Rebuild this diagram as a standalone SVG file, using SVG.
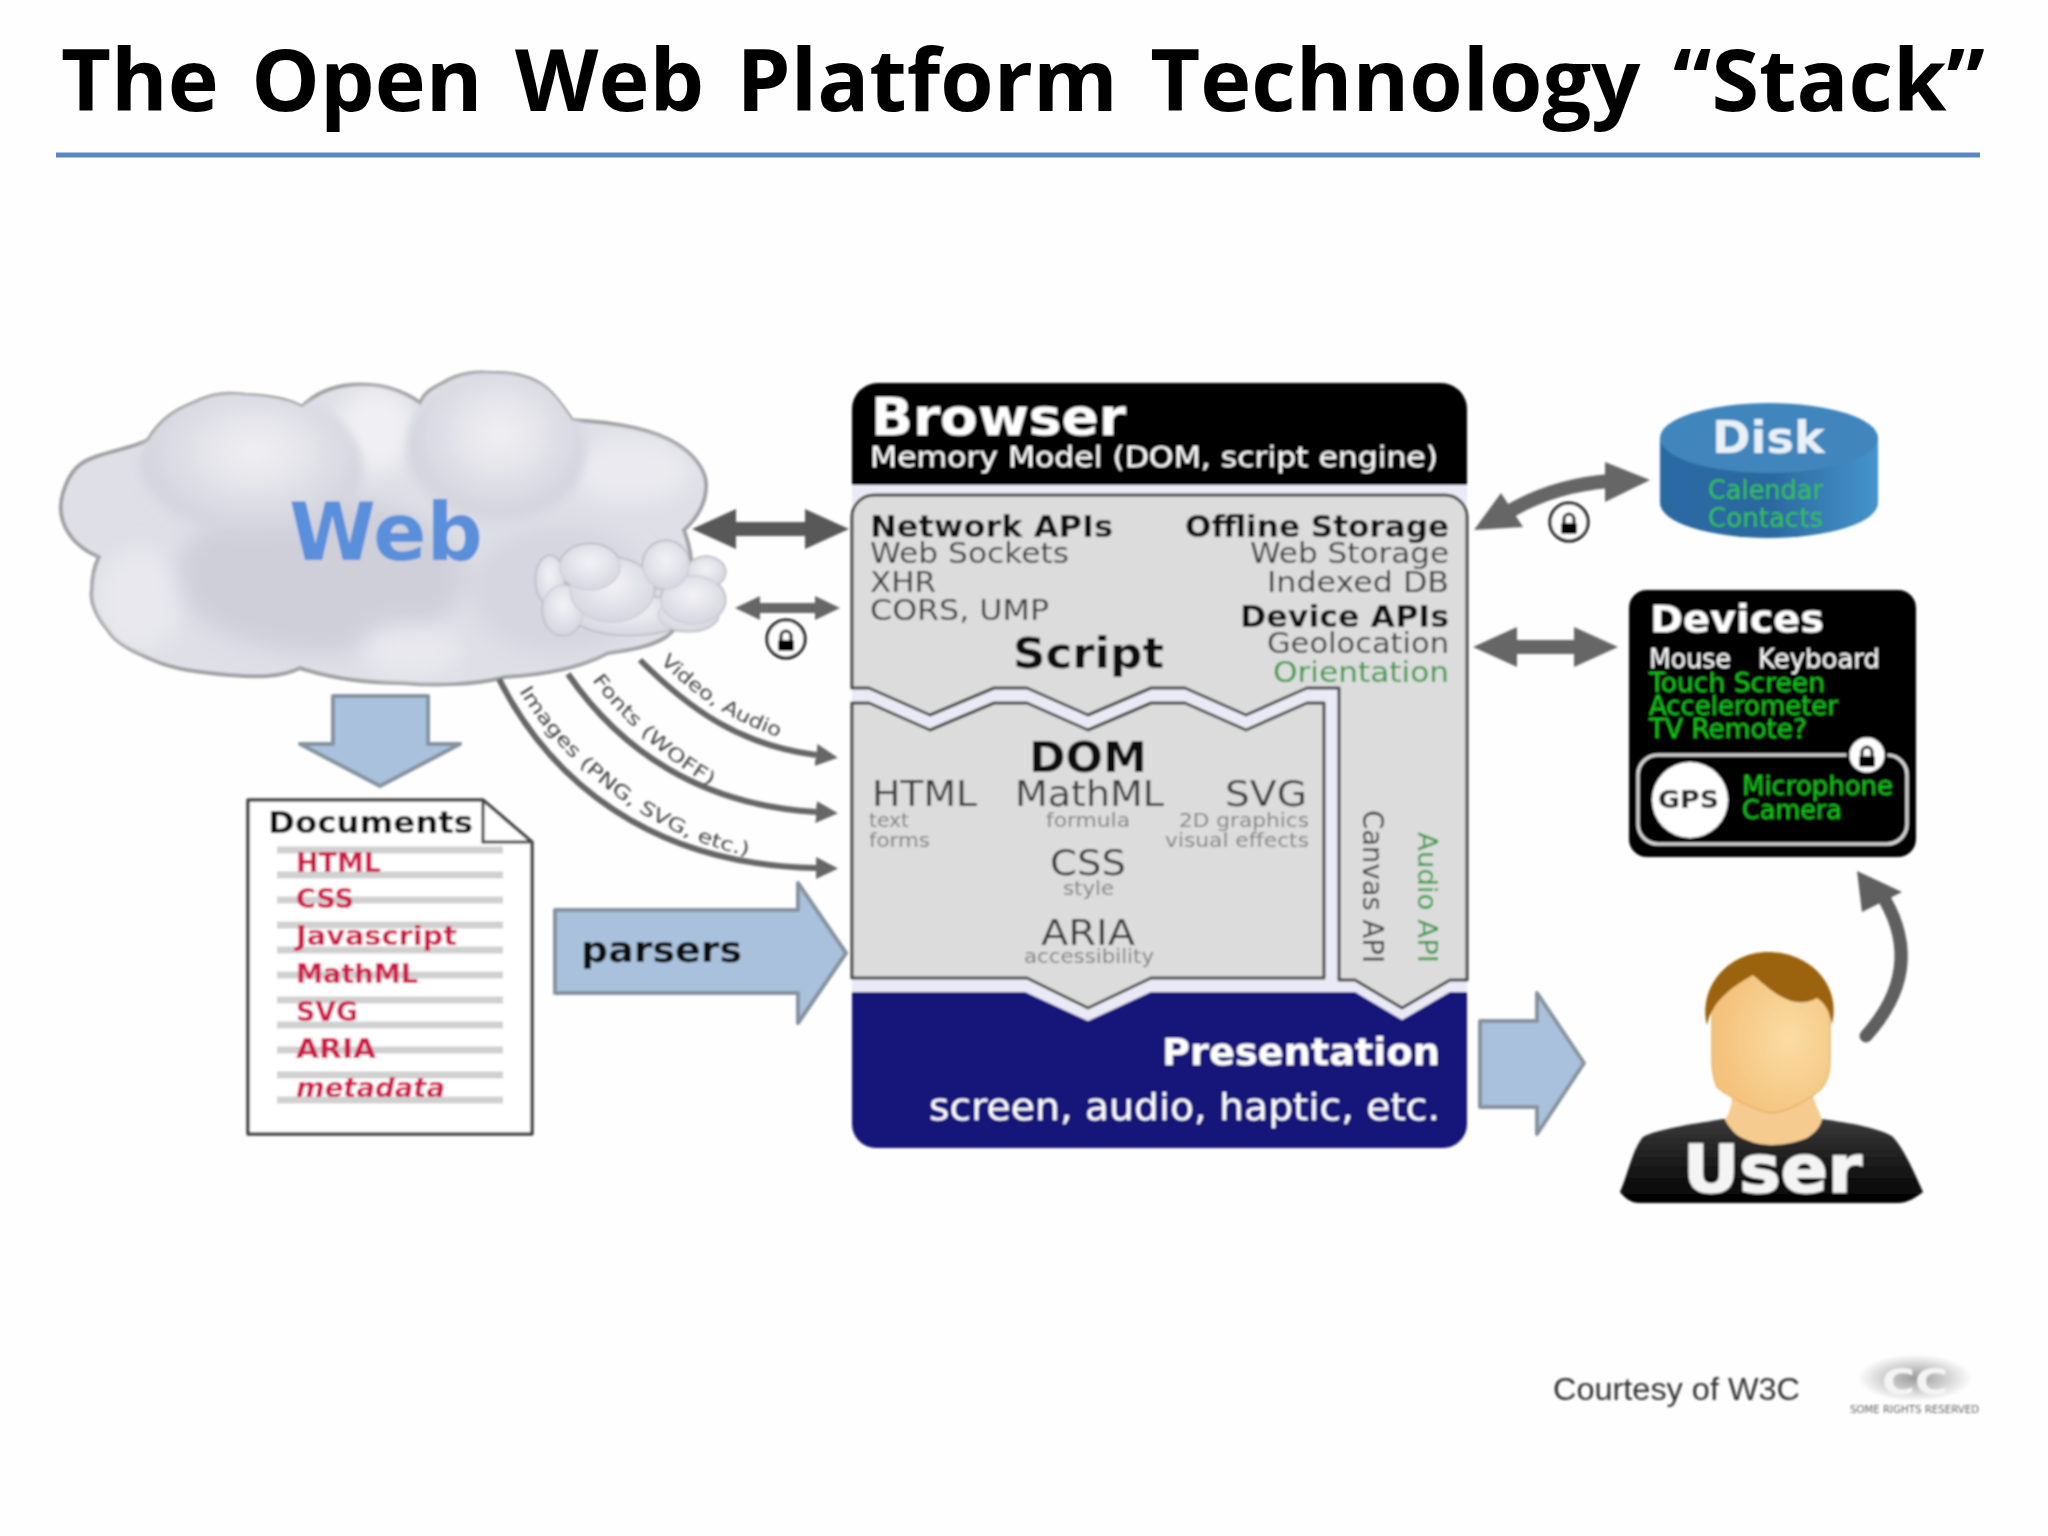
<svg xmlns="http://www.w3.org/2000/svg" width="2048" height="1536" viewBox="0 0 2048 1536">
<style>
text{font-family:"DejaVu Sans","Liberation Sans",sans-serif}
.b{font-weight:700}
.wh{fill:#fff}
.k{fill:#111}
.dk{fill:#3a3a3a}
.sub{fill:#808080}
.gr{fill:#2f9a3c}
.lg{fill:#17c61e}
.red{fill:#d0174a;font-weight:700}
.panel{fill:#dcdcdc;stroke:#444;stroke-width:3;stroke-linejoin:round}
.blue{fill:#a9c1dc;stroke:#85939f;stroke-width:4;stroke-linejoin:round}
.dbl{fill:#666}
.cv{fill:none;stroke:#666;stroke-width:6}
.stripe{stroke:#d0d0d0;stroke-width:7}
.lab{fill:#444;font-size:19px}
</style>
<defs>
<radialGradient id="puff" cx=".52" cy=".4" r=".55"><stop offset="0" stop-color="#f0f0f3"/><stop offset=".6" stop-color="#dedee6"/><stop offset=".92" stop-color="#d4d4de"/><stop offset="1" stop-color="#d4d4de" stop-opacity=".3"/></radialGradient>
<radialGradient id="small" cx=".5" cy=".4" r=".6"><stop offset="0" stop-color="#f2f2f6"/><stop offset="1" stop-color="#d6d6e0"/></radialGradient>
<radialGradient id="skin" cx=".65" cy=".5" r=".6"><stop offset="0" stop-color="#fbdca4"/><stop offset="1" stop-color="#f4c27c"/></radialGradient>
<linearGradient id="side"><stop offset="0" stop-color="#2a6aa4"/><stop offset=".5" stop-color="#2b689f"/><stop offset="1" stop-color="#4594cc"/></linearGradient>
<linearGradient id="shirt" x2="0" y2="1"><stop offset="0" stop-color="#3a3a3a"/><stop offset="1" stop-color="#000"/></linearGradient>
<radialGradient id="ccg"><stop offset="0" stop-color="#9a9a9a"/><stop offset="1" stop-color="#fff"/></radialGradient>
<filter id="soft" x="-20%" y="-20%" width="140%" height="140%"><feGaussianBlur stdDeviation="11"/></filter>
<filter id="soft2" x="-5%" y="-5%" width="110%" height="110%"><feGaussianBlur stdDeviation="5"/></filter>
<filter id="jpeg" x="0" y="0" width="100%" height="100%" filterUnits="userSpaceOnUse" primitiveUnits="userSpaceOnUse"><feGaussianBlur stdDeviation=".8"/></filter>
<clipPath id="cloudClip"><path d="M99 557C70 545 55 520 63 493C70 470 80 462 95 457C115 450 135 447 148 440C160 420 175 410 193 403C215 392 230 393 246 395C270 396 290 400 302 407C320 388 345 383 371 385C390 386 410 395 420 403C425 392 432 388 443 383C460 372 478 372 492 373C515 372 533 378 545 387C558 398 565 410 572 420C610 422 650 428 675 443C695 455 705 470 706 483C707 505 695 520 684 530C695 560 700 610 666 637C650 647 630 650 608 653C580 668 540 675 505 677C475 685 435 686 403 683C365 683 330 678 300 668C280 678 255 677 229 675C200 672 175 670 153 660C130 650 115 642 108 630C95 615 90 600 92 590C92 575 95 565 99 557Z"/></clipPath>
<marker id="head" markerUnits="userSpaceOnUse" markerWidth="22" markerHeight="26" refX="0" refY="13" orient="auto"><path d="M0 2L22 13L0 24Z" fill="#666"/></marker>
<g id="lock"><path d="M-5 0V-5a5 5 0 0 1 10 0V0" fill="none" stroke="#000" stroke-width="3"/><rect x="-8" y="-1" width="16" height="11" rx="2" fill="#000"/></g>
<path id="pVideo" d="M660 662C690 692 730 722 785 739"/>
<path id="pFonts" d="M592 680C622 721 667 761 714 788"/>
<path id="pImages" d="M519 691C558 756 643 836 750 856"/>
<g id="puffs">
<ellipse cx="630" cy="615" rx="56" ry="20"/>
<ellipse cx="688" cy="615" rx="30" ry="16"/>
<ellipse cx="550" cy="580" rx="14" ry="24"/>
<ellipse cx="563" cy="610" rx="20" ry="25"/>
<ellipse cx="706" cy="572" rx="19" ry="15"/>
<ellipse cx="612" cy="590" rx="42" ry="32"/>
<ellipse cx="693" cy="600" rx="32" ry="24"/>
<ellipse cx="590" cy="567" rx="30" ry="23"/>
<ellipse cx="666" cy="565" rx="23" ry="24"/>
</g>
</defs>
<rect width="2048" height="1536" fill="#fefefe"/>
<g id="title">
<text x="61" y="111" font-size="86" font-weight="700" style="font-family:'Open Sans','Noto Sans',sans-serif" textLength="1924" lengthAdjust="spacingAndGlyphs" word-spacing="10" fill="#000">The Open Web Platform Technology “Stack”</text>
<line x1="56" y1="155" x2="1980" y2="155" stroke="#5b86c4" stroke-width="5"/>
</g>
<g id="diagram" filter="url(#jpeg)">
<g id="web">
<path d="M99 557C70 545 55 520 63 493C70 470 80 462 95 457C115 450 135 447 148 440C160 420 175 410 193 403C215 392 230 393 246 395C270 396 290 400 302 407C320 388 345 383 371 385C390 386 410 395 420 403C425 392 432 388 443 383C460 372 478 372 492 373C515 372 533 378 545 387C558 398 565 410 572 420C610 422 650 428 675 443C695 455 705 470 706 483C707 505 695 520 684 530C695 560 700 610 666 637C650 647 630 650 608 653C580 668 540 675 505 677C475 685 435 686 403 683C365 683 330 678 300 668C280 678 255 677 229 675C200 672 175 670 153 660C130 650 115 642 108 630C95 615 90 600 92 590C92 575 95 565 99 557Z" fill="#dfdfe7" stroke="#a2a2a6" stroke-width="4"/>
<g clip-path="url(#cloudClip)">
<g filter="url(#soft)">
<ellipse cx="320" cy="575" rx="145" ry="78" fill="#cfcfda"/>
<ellipse cx="560" cy="590" rx="90" ry="65" fill="#d6d6e0"/>
<ellipse cx="139" cy="600" rx="42" ry="50" fill="#e8e8ee"/>
<ellipse cx="410" cy="650" rx="50" ry="26" fill="#e8e8ee"/>
<ellipse cx="630" cy="470" rx="60" ry="32" fill="#eaeaf0"/>
<ellipse cx="376" cy="430" rx="38" ry="42" fill="#f0f0f4"/>
</g>
<g filter="url(#soft2)">
<ellipse cx="251" cy="467" rx="112" ry="76" fill="url(#puff)"/>
<ellipse cx="496" cy="450" rx="90" ry="80" fill="url(#puff)"/>
</g>
</g>
<use href="#puffs" fill="#d6d6e0" stroke="#aeaeb6" stroke-width="3"/>
<use href="#puffs" fill="url(#small)" stroke="#cfcfd8" stroke-width="1.5"/>
<text x="289" y="560" font-size="80" class="b" fill="#5a8fdc" textLength="194" lengthAdjust="spacingAndGlyphs">Web</text>
</g>
<g id="connectors">
<polygon style="fill:#585858" points="692,529 736,509 736,522 805,522 805,509 849,529 805,549 805,536 736,536 736,549"/>
<polygon class="dbl" points="735,608 760,596 760,603 815,603 815,596 840,608 815,620 815,613 760,613 760,620"/>
<path class="cv" marker-end="url(#head)" d="M640 660C690 710 740 745 816 755"/>
<path class="cv" marker-end="url(#head)" d="M568 674C620 750 700 805 816 812"/>
<path class="cv" marker-end="url(#head)" d="M499 679C550 780 650 865 816 868"/>
<polygon class="blue" points="333,696 428,696 428,744 460,744 380,786 300,744 333,744"/>
<polygon class="blue" points="555,910 798,910 798,883 846,953 798,1023 798,993 555,993"/>
<polygon class="blue" points="1480,1021 1537,1021 1537,993 1584,1063 1537,1134 1537,1107 1480,1107"/>
<polygon class="dbl" points="1473,647 1517,627 1517,640 1574,640 1574,627 1618,647 1574,667 1574,654 1517,654 1517,667"/>
<path fill="none" stroke="#666" stroke-width="14" d="M1510 511Q1555 485 1610 481"/>
<polygon class="dbl" points="1474,530 1501,493 1523,527"/>
<polygon class="dbl" points="1650,480 1605,462 1605,502"/>
<path fill="none" stroke="#5e5e5e" stroke-width="13" stroke-linecap="round" d="M1866 1036Q1925 970 1885 900"/>
<polygon fill="#5e5e5e" points="1857,871 1902,892 1862,912"/>
<g id="lock1"><circle cx="786" cy="639" r="19" fill="#fff" stroke="#111" stroke-width="3"/><use href="#lock" x="786" y="641"/></g>
<g id="lock2"><circle cx="1569" cy="522" r="19" fill="#fff" stroke="#111" stroke-width="3"/><use href="#lock" x="1569" y="524"/></g>
<text class="lab"><textPath href="#pVideo" textLength="142" lengthAdjust="spacingAndGlyphs">Video, Audio</textPath></text>
<text class="lab"><textPath href="#pFonts" textLength="160" lengthAdjust="spacingAndGlyphs">Fonts (WOFF)</textPath></text>
<text class="lab"><textPath href="#pImages" textLength="290" lengthAdjust="spacingAndGlyphs">Images (PNG, SVG, etc.)</textPath></text>
</g>
<g id="documents">
<path d="M248 800H483L532 842V1134H248Z" fill="#fff" stroke="#444" stroke-width="3.5" stroke-linejoin="round"/>
<path d="M483 800V842H532" fill="none" stroke="#444" stroke-width="3"/>
<g class="stripe">
<line x1="277" y1="850" x2="503" y2="850"/><line x1="277" y1="875" x2="503" y2="875"/><line x1="277" y1="900" x2="503" y2="900"/><line x1="277" y1="925" x2="503" y2="925"/><line x1="277" y1="950" x2="503" y2="950"/><line x1="277" y1="975" x2="503" y2="975"/><line x1="277" y1="1000" x2="503" y2="1000"/><line x1="277" y1="1025" x2="503" y2="1025"/><line x1="277" y1="1050" x2="503" y2="1050"/><line x1="277" y1="1075" x2="503" y2="1075"/><line x1="277" y1="1100" x2="503" y2="1100"/>
</g>
<text x="268" y="833" font-size="30" class="b k" textLength="205" lengthAdjust="spacingAndGlyphs">Documents</text>
<g font-size="26">
<text x="296" y="872" class="red" textLength="85" lengthAdjust="spacingAndGlyphs">HTML</text>
<text x="296" y="908" class="red" textLength="58" lengthAdjust="spacingAndGlyphs">CSS</text>
<text x="296" y="945" class="red" textLength="161" lengthAdjust="spacingAndGlyphs">Javascript</text>
<text x="296" y="983" class="red" textLength="122" lengthAdjust="spacingAndGlyphs">MathML</text>
<text x="296" y="1021" class="red" textLength="62" lengthAdjust="spacingAndGlyphs">SVG</text>
<text x="296" y="1058" class="red" textLength="80" lengthAdjust="spacingAndGlyphs">ARIA</text>
<text x="296" y="1097" class="red" font-style="italic" textLength="149" lengthAdjust="spacingAndGlyphs">metadata</text>
</g>
</g>
<g id="parsers"><text x="581" y="962" font-size="35" class="b k" textLength="161" lengthAdjust="spacingAndGlyphs">parsers</text></g>
<g id="browser">
<rect x="852" y="480" width="615" height="545" fill="#eaeaf6"/>
<path d="M852 485V409a26 26 0 0 1 26-26H1441a26 26 0 0 1 26 26V485Z" fill="#000"/>
<text x="871" y="435" font-size="52" class="b wh" textLength="255" lengthAdjust="spacingAndGlyphs">Browser</text>
<text x="870" y="467" font-size="29" class="wh" textLength="568" lengthAdjust="spacingAndGlyphs">Memory Model (DOM, script engine)</text>
</g>
<g id="presentation">
<path d="M852 992H1025L1088 1021L1151 992H1355L1402 1020L1450 992H1467V1124a24 24 0 0 1-24 24H876a24 24 0 0 1-24-24Z" fill="#14147a"/>
<text x="1162" y="1065" font-size="37" class="b wh" textLength="278" lengthAdjust="spacingAndGlyphs">Presentation</text>
<text x="929" y="1120" font-size="38" class="wh" textLength="511" lengthAdjust="spacingAndGlyphs">screen, audio, haptic, etc.</text>
</g>
<g id="script">
<path class="panel" d="M852 688V517a22 22 0 0 1 22-22H1445a22 22 0 0 1 22 22V980H1450L1402 1008L1355 980H1339V688H1307L1246 715L1185 688H1151L1088 715L1027 688H994L930 715L869 688Z"/>
<text x="870" y="537" font-size="30" class="b k" textLength="243" lengthAdjust="spacingAndGlyphs">Network APIs</text>
<text x="870" y="563" font-size="28" class="dk" textLength="199" lengthAdjust="spacingAndGlyphs">Web Sockets</text>
<text x="870" y="592" font-size="28" class="dk" textLength="66" lengthAdjust="spacingAndGlyphs">XHR</text>
<text x="870" y="620" font-size="28" class="dk" textLength="179" lengthAdjust="spacingAndGlyphs">CORS, UMP</text>
<text x="1013" y="668" font-size="42" class="b k" textLength="151" lengthAdjust="spacingAndGlyphs">Script</text>
<text x="1185" y="537" font-size="30" class="b k" textLength="264" lengthAdjust="spacingAndGlyphs">Offline Storage</text>
<text x="1250" y="563" font-size="28" class="dk" textLength="199" lengthAdjust="spacingAndGlyphs">Web Storage</text>
<text x="1267" y="592" font-size="28" class="dk" textLength="182" lengthAdjust="spacingAndGlyphs">Indexed DB</text>
<text x="1240" y="627" font-size="30" class="b k" textLength="209" lengthAdjust="spacingAndGlyphs">Device APIs</text>
<text x="1267" y="653" font-size="28" class="dk" textLength="182" lengthAdjust="spacingAndGlyphs">Geolocation</text>
<text x="1273" y="682" font-size="28" class="gr" textLength="176" lengthAdjust="spacingAndGlyphs">Orientation</text>
<text transform="translate(1363 810) rotate(90)" font-size="28" class="dk" textLength="153" lengthAdjust="spacingAndGlyphs">Canvas API</text>
<text transform="translate(1418 832) rotate(90)" font-size="26" class="gr" textLength="131" lengthAdjust="spacingAndGlyphs">Audio API</text>
</g>
<g id="dom">
<path class="panel" d="M852 703H869L930 730L994 703H1027L1088 730L1151 703H1185L1246 730L1307 703H1324V978H1151L1088 1008L1027 978H852Z"/>
<text x="1029" y="772" font-size="42" class="b k" textLength="118" lengthAdjust="spacingAndGlyphs">DOM</text>
<text x="872" y="806" font-size="36" class="dk" textLength="105" lengthAdjust="spacingAndGlyphs">HTML</text>
<text x="1015" y="806" font-size="36" class="dk" textLength="149" lengthAdjust="spacingAndGlyphs">MathML</text>
<text x="1225" y="806" font-size="36" class="dk" textLength="82" lengthAdjust="spacingAndGlyphs">SVG</text>
<text x="869" y="827" font-size="20" class="sub" textLength="40" lengthAdjust="spacingAndGlyphs">text</text>
<text x="869" y="847" font-size="20" class="sub" textLength="61" lengthAdjust="spacingAndGlyphs">forms</text>
<text x="1046" y="827" font-size="20" class="sub" textLength="84" lengthAdjust="spacingAndGlyphs">formula</text>
<text x="1179" y="827" font-size="20" class="sub" textLength="130" lengthAdjust="spacingAndGlyphs">2D graphics</text>
<text x="1165" y="847" font-size="20" class="sub" textLength="144" lengthAdjust="spacingAndGlyphs">visual effects</text>
<text x="1050" y="875" font-size="36" class="dk" textLength="76" lengthAdjust="spacingAndGlyphs">CSS</text>
<text x="1063" y="895" font-size="20" class="sub" textLength="51" lengthAdjust="spacingAndGlyphs">style</text>
<text x="1041" y="945" font-size="36" class="dk" textLength="94" lengthAdjust="spacingAndGlyphs">ARIA</text>
<text x="1024" y="963" font-size="20" class="sub" textLength="130" lengthAdjust="spacingAndGlyphs">accessibility</text>
</g>
<g id="disk">
<path d="M1660 438V503A109 35 0 0 0 1878 503V438Z" fill="url(#side)"/>
<ellipse cx="1769" cy="438" rx="109" ry="35" fill="#3f86bd"/>
<text x="1712" y="453" font-size="44" class="b" fill="#e9f0f6" textLength="113" lengthAdjust="spacingAndGlyphs">Disk</text>
<text x="1708" y="499" font-size="26" fill="#35c24a" textLength="115" lengthAdjust="spacingAndGlyphs">Calendar</text>
<text x="1708" y="527" font-size="26" fill="#35c24a" textLength="115" lengthAdjust="spacingAndGlyphs">Contacts</text>
</g>
<g id="devices">
<rect x="1629" y="590" width="287" height="267" rx="18" fill="#000"/>
<text x="1650" y="632" font-size="37" class="b wh" textLength="174" lengthAdjust="spacingAndGlyphs">Devices</text>
<text x="1649" y="668" font-size="26" class="wh" textLength="82" lengthAdjust="spacingAndGlyphs">Mouse</text>
<text x="1758" y="668" font-size="26" class="wh" textLength="122" lengthAdjust="spacingAndGlyphs">Keyboard</text>
<text x="1649" y="692" font-size="26" class="lg" textLength="176" lengthAdjust="spacingAndGlyphs">Touch Screen</text>
<text x="1649" y="715" font-size="26" class="lg" textLength="189" lengthAdjust="spacingAndGlyphs">Accelerometer</text>
<text x="1649" y="738" font-size="26" class="lg" textLength="158" lengthAdjust="spacingAndGlyphs">TV Remote?</text>
<rect x="1638" y="755" width="269" height="89" rx="20" fill="none" stroke="#ddd" stroke-width="3"/>
<circle cx="1690" cy="800" r="38" fill="#fff"/>
<text x="1658" y="808" font-size="24" class="b" fill="#222" textLength="61" lengthAdjust="spacingAndGlyphs">GPS</text>
<text x="1742" y="795" font-size="26" class="lg" textLength="151" lengthAdjust="spacingAndGlyphs">Microphone</text>
<text x="1742" y="819" font-size="26" class="lg" textLength="100" lengthAdjust="spacingAndGlyphs">Camera</text>
<g id="lock3"><circle cx="1867" cy="755" r="19" fill="#fff" stroke="#000" stroke-width="3"/><use href="#lock" x="1867" y="757"/></g>
</g>
<g id="user">
<path d="M1620 1192C1628 1175 1632 1150 1643 1137C1660 1128 1700 1123 1723 1119H1822C1850 1123 1880 1128 1893 1137C1905 1150 1915 1175 1923 1192C1915 1198 1908 1203 1897 1203H1640C1630 1203 1625 1198 1620 1192Z" fill="url(#shirt)"/>
<path d="M1732 1095C1732 1105 1730 1112 1725 1120C1732 1132 1738 1137 1747 1140C1755 1144 1765 1145 1773 1145C1785 1145 1797 1142 1807 1138C1815 1133 1820 1127 1822 1120C1820 1112 1815 1105 1813 1095Z" fill="#f6cb90"/>
<path d="M1712 1020C1712 985 1735 965 1770 965C1810 965 1830 985 1830 1020V1060C1830 1075 1825 1085 1820 1090C1805 1102 1785 1113 1770 1113C1755 1110 1730 1098 1717 1087C1712 1075 1712 1065 1712 1055Z" fill="url(#skin)" stroke="#e8b56a" stroke-width="1.5"/>
<path d="M1707 1025C1698 985 1730 952 1768 952C1810 952 1842 985 1832 1025C1830 1012 1825 1003 1817 998C1810 1002 1803 1003 1797 1002C1780 1000 1765 985 1753 975C1735 985 1712 1000 1707 1025Z" fill="#9b6409"/>
<text x="1683" y="1192" font-size="66" class="b" fill="#f4f4f4" stroke="#f4f4f4" stroke-width="1.5" textLength="179" lengthAdjust="spacingAndGlyphs">User</text>
</g>
<g id="credit">
<text x="1553" y="1400" font-size="31" fill="#333" style="font-family:'Liberation Sans',Arial,sans-serif" textLength="247" lengthAdjust="spacingAndGlyphs">Courtesy of W3C</text>
<ellipse cx="1915" cy="1378" rx="58" ry="24" fill="url(#ccg)"/>
<text x="1882" y="1394" font-size="36" class="b" fill="#f4f4f4" textLength="66" lengthAdjust="spacingAndGlyphs">CC</text>
<text x="1850" y="1413" font-size="11" fill="#666" textLength="129" lengthAdjust="spacingAndGlyphs">SOME RIGHTS RESERVED</text>
</g>
</g>
</svg>
